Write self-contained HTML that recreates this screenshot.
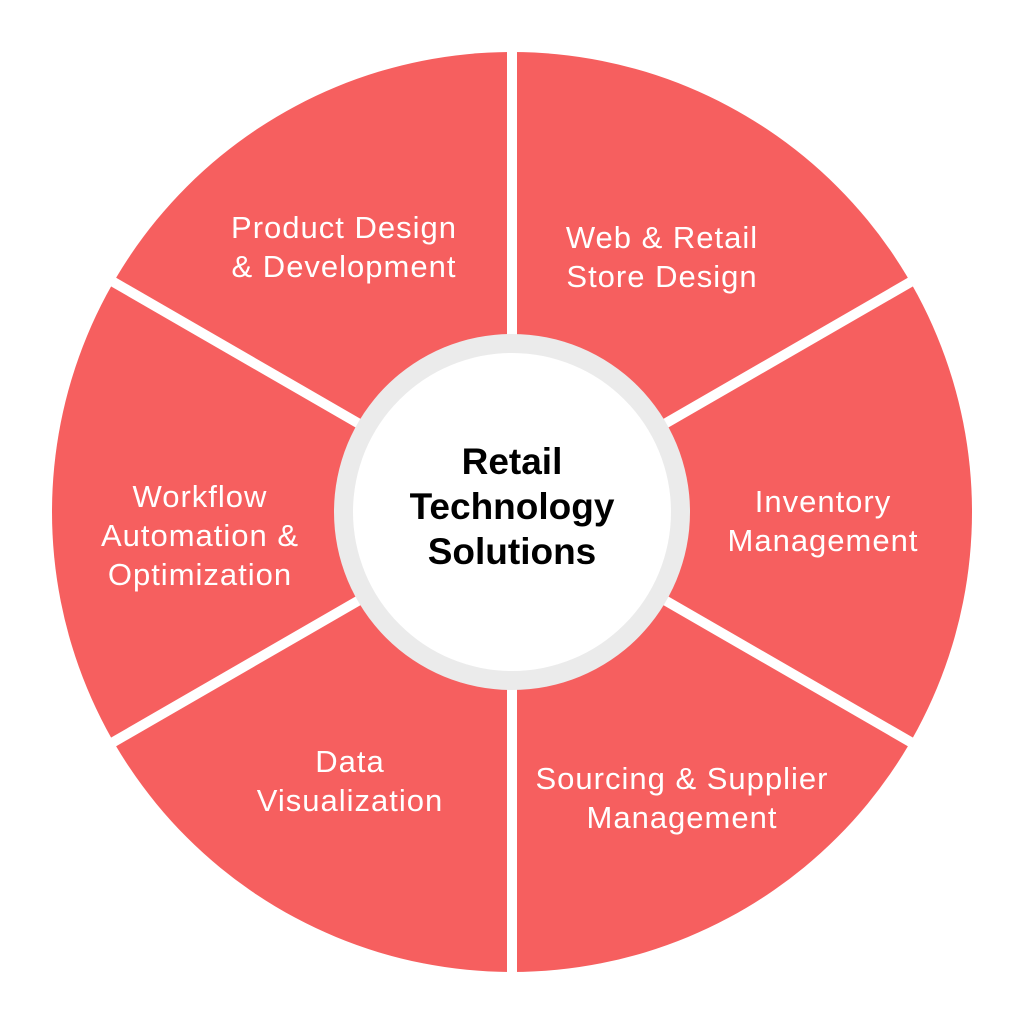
<!DOCTYPE html>
<html><head><meta charset="utf-8"><style>
html,body{margin:0;padding:0;background:#fff;width:1024px;height:1024px;overflow:hidden}
</style></head><body>
<svg width="1024" height="1024" viewBox="0 0 1024 1024" xmlns="http://www.w3.org/2000/svg">
<circle cx="512" cy="512" r="460" fill="#F65F5F"/>
<g stroke="#fff" stroke-width="10">
<line x1="512" y1="40" x2="512" y2="984"/>
<line x1="512" y1="512" x2="110" y2="280"/>
<line x1="512" y1="512" x2="914" y2="280"/>
<line x1="512" y1="512" x2="110" y2="744"/>
<line x1="512" y1="512" x2="914" y2="744"/>
</g>
<circle cx="512" cy="512" r="178" fill="#EBEBEB"/>
<circle cx="512" cy="512" r="159" fill="#fff"/>
<g font-family="Liberation Sans, sans-serif" font-weight="bold" font-size="37" fill="#000" text-anchor="middle">
<text x="512" y="474">Retail</text>
<text x="512" y="519">Technology</text>
<text x="512" y="564">Solutions</text>
</g>
<g font-family="Liberation Sans, sans-serif" font-size="31" letter-spacing="1" fill="#fff" text-anchor="middle">
<text x="344" y="238">Product Design</text>
<text x="344" y="277">&amp; Development</text>
<text x="662" y="248">Web &amp; Retail</text>
<text x="662" y="287">Store Design</text>
<text x="823" y="512">Inventory</text>
<text x="823" y="551">Management</text>
<text x="682" y="789">Sourcing &amp; Supplier</text>
<text x="682" y="828">Management</text>
<text x="350" y="772">Data</text>
<text x="350" y="811">Visualization</text>
<text x="200" y="507">Workflow</text>
<text x="200" y="546">Automation &amp;</text>
<text x="200" y="585">Optimization</text>
</g>
</svg>
</body></html>
